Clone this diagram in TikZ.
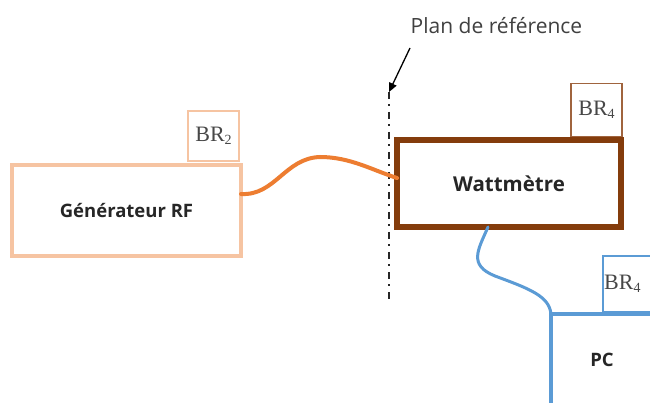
\documentclass[tikz,border=0pt]{standalone}
\usepackage{fontspec}
\setmainfont{Open Sans}
\newfontfamily\brserif{Liberation Serif}
\usetikzlibrary{calc,arrows.meta}
\definecolor{peach}{HTML}{F6C4A2}
\definecolor{orangec}{HTML}{ED7D31}
\definecolor{brownw}{HTML}{843C0C}
\definecolor{brownl}{HTML}{A0643E}
\definecolor{bluec}{HTML}{5B9BD5}
\definecolor{txtgray}{HTML}{404040}
\newcommand{\brtext}[1]{{\brserif\fontsize{22}{24}\selectfont BR\raisebox{-0.3ex}{\fontsize{14}{14}\selectfont #1}}}
\tikzset{
  box/.style={draw, rectangle, inner sep=0pt, outer sep=0pt, fill=white},
  boldlbl/.style={font=\fontsize{18.5}{20}\selectfont\bfseries, text=black!85},
  brlbl/.style={text=black!72},
  cable/.style={line cap=round},
}
\begin{document}
\begin{tikzpicture}[x=1pt,y=-1pt]
\clip (0,0) rectangle (650,403);
\fill[white] (0,0) rectangle (650,403);

% reference plane
\coordinate (planTop) at (389,92);
\coordinate (planBot) at (389,300);
\draw[black!85, line width=1.6pt, dash pattern=on 7pt off 5pt on 2pt off 6pt] (planTop) -- (planBot);
\node[font=\fontsize{21}{23}\selectfont, text=txtgray] (plan) at (496.5,26) {Plan de référence};
\coordinate (arrS) at (410,48);
\draw[black, line width=1.3pt, -{Triangle[length=9pt,width=8pt]}] (arrS) -- (planTop);

% boxes
\node[box, draw=peach, line width=1.5pt, minimum width=51pt, minimum height=50pt, brlbl] (br2) at (213.5,136) {\brtext{2}};
\node[box, draw=peach, line width=4pt, minimum width=229pt, minimum height=91pt, boldlbl] (gen) at (126.5,210.5) {Générateur RF};

\node[box, draw=brownl, line width=1.5pt, minimum width=51pt, minimum height=53pt, brlbl] (br4a) at (596.5,110) {\brtext{4}};
\node[box, draw=brownw, line width=6pt, minimum width=224pt, minimum height=87pt, boldlbl, font=\fontsize{20.5}{22}\selectfont\bfseries] (watt) at (509,183.5) {Wattmètre};

\node[box, draw=bluec, line width=1.5pt, minimum width=56pt, minimum height=56pt] (br4b) at (631,284) {};
\node[brlbl, anchor=west, inner sep=0pt] (br4bt) at (604,284) {\brtext{4}};
\node[box, draw=bluec, line width=4pt, minimum width=149pt, minimum height=136pt] (pc) at (625.5,382) {};
\node[boldlbl] (pct) at (602,360) {PC};

% cables
\coordinate (oS) at ([yshift=16.5pt]gen.east);
\coordinate (oE) at ([yshift=5.5pt]watt.west);
\draw[cable, orangec, line width=4pt] (oS) .. controls (275,196) and (285,158) .. (320,157) .. controls (350,157) and (372,170) .. (oE);

\coordinate (bS) at ([xshift=-21pt]watt.south);
\draw[cable, bluec, line width=3pt] (bS) .. controls (478,250) and (468,265) .. (495,276) .. controls (530,289) and (549,296) .. (pc.north west);
\end{tikzpicture}
\end{document}
